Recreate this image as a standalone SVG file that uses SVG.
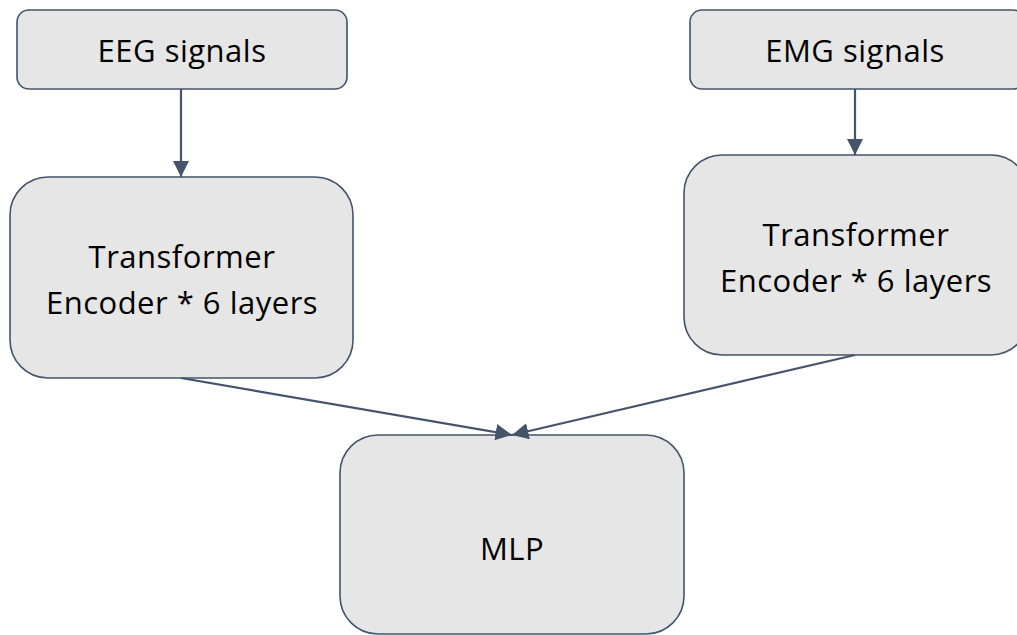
<svg xmlns="http://www.w3.org/2000/svg" width="1017" height="635" viewBox="0 0 1017 635">
<style>
.box{fill:#e6e6e6;stroke:#44546a;stroke-width:1.6}
.lbl{font-family:"Open Sans","Liberation Sans",Arial,sans-serif;font-size:31px;letter-spacing:0.5px;fill:#000;text-anchor:middle}
.conn{stroke:#44546a;stroke-width:2.2;fill:none}
</style>
<defs>
<marker id="ah" viewBox="0 0 10 10" refX="10" refY="5" markerWidth="7.5" markerHeight="7.5" markerUnits="strokeWidth" orient="auto">
<path d="M0,0 L10,5 L0,10 z" fill="#44546a"/>
</marker>
</defs>
<g id="eeg"><rect class="box" x="17" y="10" width="330" height="79" rx="12"/><text class="lbl" x="182" y="62">EEG signals</text></g>
<g id="emg"><rect class="box" x="690" y="10" width="335" height="79" rx="12"/><text class="lbl" x="855" y="62">EMG signals</text></g>
<g id="enc1"><rect class="box" x="10" y="177" width="343" height="201" rx="38"/><text class="lbl" x="182" y="268">Transformer</text><text class="lbl" x="182" y="314">Encoder * 6 layers</text></g>
<g id="enc2"><rect class="box" x="684" y="155" width="345" height="200" rx="38"/><text class="lbl" x="856" y="246">Transformer</text><text class="lbl" x="856" y="292">Encoder * 6 layers</text></g>
<g id="mlp"><rect class="box" x="340" y="435" width="344" height="199" rx="38"/><text class="lbl" x="512" y="560">MLP</text></g>
<g id="connectors">
<line class="conn" x1="181" y1="89" x2="181" y2="177" marker-end="url(#ah)"/>
<line class="conn" x1="855" y1="89" x2="855" y2="155" marker-end="url(#ah)"/>
<line class="conn" x1="181" y1="378" x2="512" y2="435" marker-end="url(#ah)"/>
<line class="conn" x1="855" y1="355" x2="512" y2="435" marker-end="url(#ah)"/>
</g>
</svg>
